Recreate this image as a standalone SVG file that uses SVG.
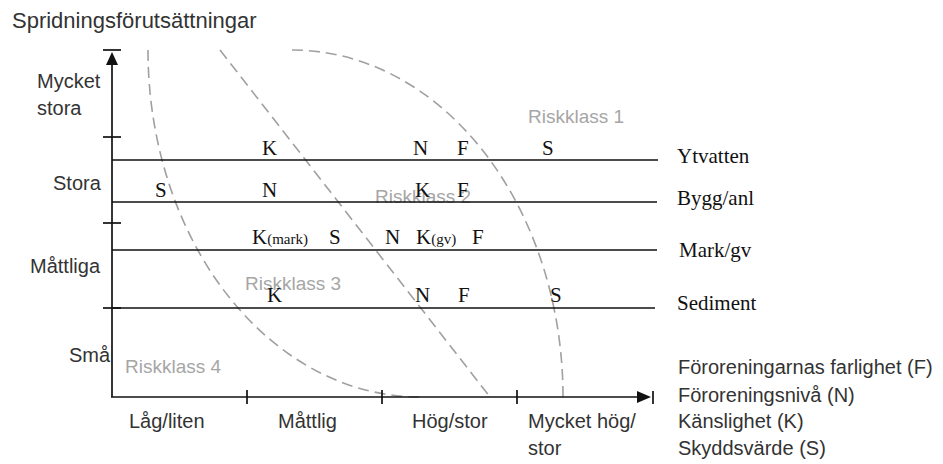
<svg xmlns="http://www.w3.org/2000/svg" width="943" height="464" viewBox="0 0 943 464">
<style>
.sans{font-family:"Liberation Sans",Arial,sans-serif;font-size:20px;fill:#333}
.risk{font-family:"Liberation Sans",Arial,sans-serif;font-size:19px;fill:#a6a6a6}
.ser{font-family:"Liberation Serif","Times New Roman",serif;font-size:21px;fill:#111}
.sub{font-size:15px}
.ax{stroke:#111;stroke-width:1.7;fill:none}
.row{stroke:#111;stroke-width:1.4}
.dash{stroke:#a0a0a0;stroke-width:1.6;fill:none;stroke-dasharray:11 6}
</style>
<rect width="943" height="464" fill="#fff"/>
<text class="sans" x="12" y="28" style="font-size:22px">Spridningsförutsättningar</text>
<g id="boundaries">
<path class="dash" d="M148,50 A272,347 0 0 0 420,397"/>
<path class="dash" d="M220,50 L490,397"/>
<path class="dash" d="M292,50 A271,347 0 0 1 563,397"/>
</g>
<g id="risk-labels">
<text class="risk" x="528" y="123">Riskklass 1</text>
<text class="risk" x="375" y="203">Riskklass 2</text>
<text class="risk" x="245" y="290">Riskklass 3</text>
<text class="risk" x="125" y="373">Riskklass 4</text>
</g>
<g id="rows">
<line class="row" x1="112" y1="160" x2="658" y2="160"/>
<line class="row" x1="112" y1="202" x2="657" y2="202"/>
<line class="row" x1="112" y1="250" x2="657" y2="250"/>
<line class="row" x1="112" y1="308" x2="655" y2="308"/>
</g>
<g id="axes">
<line class="ax" x1="112" y1="60" x2="112" y2="397"/>
<line class="ax" x1="103" y1="50" x2="121" y2="50"/>
<polygon points="112,52 106,65 118,65" fill="#111"/>
<line class="ax" x1="103" y1="137" x2="121" y2="137"/>
<line class="ax" x1="103" y1="223" x2="121" y2="223"/>
<line class="ax" x1="103" y1="308" x2="121" y2="308"/>
<line class="ax" x1="111" y1="397" x2="640" y2="397"/>
<polygon points="651,397 637,391 637,403" fill="#111"/>
<line class="ax" x1="653" y1="391" x2="653" y2="404"/>
<line class="ax" x1="247" y1="390" x2="247" y2="404"/>
<line class="ax" x1="382" y1="390" x2="382" y2="404"/>
<line class="ax" x1="517" y1="390" x2="517" y2="404"/>
</g>
<g id="y-labels">
<text class="sans" x="37" y="88">Mycket</text>
<text class="sans" x="37" y="115">stora</text>
<text class="sans" x="53" y="190">Stora</text>
<text class="sans" x="30" y="273">Måttliga</text>
<text class="sans" x="69" y="362">Små</text>
</g>
<g id="x-labels">
<text class="sans" x="129" y="428">Låg/liten</text>
<text class="sans" x="278" y="428">Måttlig</text>
<text class="sans" x="412" y="428">Hög/stor</text>
<text class="sans" x="528" y="428">Mycket hög/</text>
<text class="sans" x="528" y="455">stor</text>
</g>
<g id="legend">
<text class="sans" x="678" y="374">Föroreningarnas farlighet (F)</text>
<text class="sans" x="678" y="402">Föroreningsnivå (N)</text>
<text class="sans" x="678" y="428">Känslighet (K)</text>
<text class="sans" x="678" y="455">Skyddsvärde (S)</text>
</g>
<g id="row-labels">
<text class="ser" x="677" y="163">Ytvatten</text>
<text class="ser" x="677" y="205">Bygg/anl</text>
<text class="ser" x="679" y="257">Mark/gv</text>
<text class="ser" x="677" y="310">Sediment</text>
</g>
<g id="ytvatten-row">
<text class="ser" x="262" y="155">K</text>
<text class="ser" x="413" y="155">N</text>
<text class="ser" x="457" y="155">F</text>
<text class="ser" x="542" y="155">S</text>
</g>
<g id="bygg-row">
<text class="ser" x="155" y="197">S</text>
<text class="ser" x="262" y="197">N</text>
<text class="ser" x="415" y="197">K</text>
<text class="ser" x="457" y="197">F</text>
</g>
<g id="mark-row">
<text class="ser" x="252" y="244">K<tspan class="sub">(mark)</tspan></text>
<text class="ser" x="329" y="244">S</text>
<text class="ser" x="385" y="244">N</text>
<text class="ser" x="416" y="244">K<tspan class="sub">(gv)</tspan></text>
<text class="ser" x="472" y="244">F</text>
</g>
<g id="sediment-row">
<text class="ser" x="267" y="302">K</text>
<text class="ser" x="415" y="302">N</text>
<text class="ser" x="458" y="302">F</text>
<text class="ser" x="550" y="302">S</text>
</g>
</svg>
